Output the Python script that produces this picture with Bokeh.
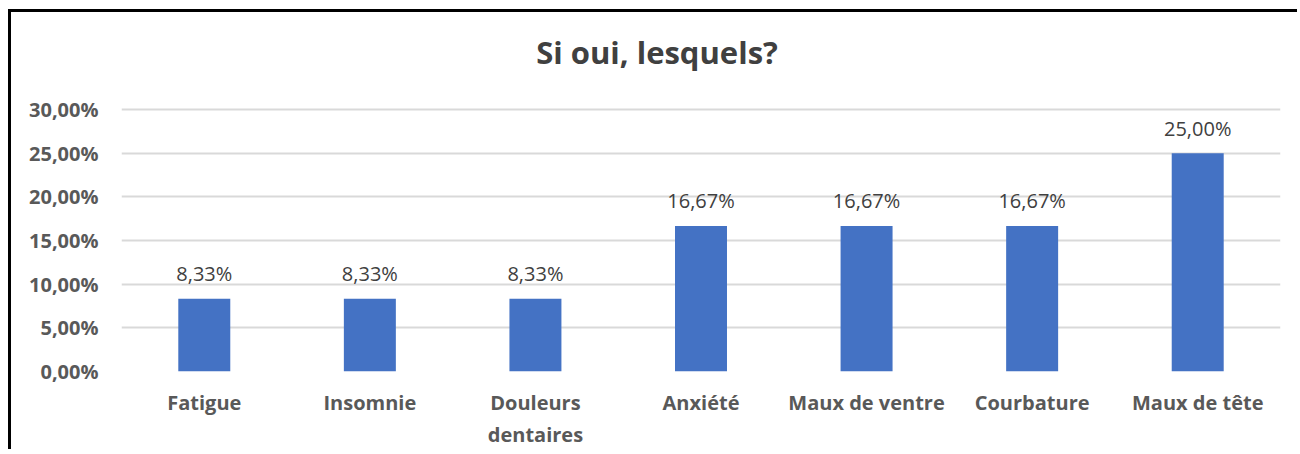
from bokeh.plotting import figure
from bokeh.models import (ColumnDataSource, Range1d, FactorRange, FixedTicker,
                          CustomJSTickFormatter, LabelSet, Label)
from bokeh.core.properties import value
from bokeh.embed import file_html
from bokeh.resources import INLINE

categories = ["Fatigue", "Insomnie", "Douleurs\ndentaires", "Anxiété",
              "Maux de ventre", "Courbature", "Maux de tête"]
values_pct = [8.33, 8.33, 8.33, 16.67, 16.67, 16.67, 25.00]
y_ticks_pct = [0, 5, 10, 15, 20, 25, 30]
title_text = "Si oui, lesquels?"

values = [v / 100 for v in values_pct]
labels = [("%.2f" % v).replace(".", ",") + "%" for v in values_pct]
src = ColumnDataSource(dict(cat=categories, val=values, lab=labels))

FONT = "Open Sans"
W, H = 1289, 440
# plot frame extends above the 30 % gridline to host the title
Y_TOP = y_ticks_pct[-1] / 100 * 359 / 262

p = figure(width=W, height=H, x_range=FactorRange(*categories),
           y_range=Range1d(0, Y_TOP),
           output_backend="svg", toolbar_location=None,
           min_border_left=110, min_border_right=20,
           min_border_top=0, min_border_bottom=81)
p.styles = {"margin-left": "8px", "margin-top": "9px",
            "border-top": "3px solid black", "border-left": "3px solid black"}
p.outline_line_color = None
p.background_fill_color = "white"
p.border_fill_color = "white"

# chart title, centred on the chart area
p.add_layout(Label(x=len(categories) / 2, y=Y_TOP * 308 / 359,
                   x_offset=-44, y_offset=12,
                   text=title_text, text_align="center",
                   text_baseline="alphabetic", text_font=FONT,
                   text_font_size="31px", text_font_style="bold",
                   text_color="#404040"))

p.vbar(x="cat", top="val", width=0.314, source=src,
       fill_color="#4472C4", line_color=None)

p.add_layout(LabelSet(x="cat", y="val", text="lab", source=src,
                      text_align="center", text_baseline="middle",
                      y_offset=25, text_font=value(FONT),
                      text_font_size="20px", text_color="#404040"))

p.xgrid.grid_line_color = None
p.ygrid.grid_line_color = "#D9D9D9"
p.ygrid.grid_line_width = 2
p.yaxis.ticker = FixedTicker(ticks=[t / 100 for t in y_ticks_pct])
p.yaxis.formatter = CustomJSTickFormatter(
    code="return (tick*100).toFixed(2).replace('.', ',') + '%';")

for ax in (p.xaxis[0], p.yaxis[0]):
    ax.axis_line_color = None
    ax.major_tick_line_color = None
    ax.minor_tick_line_color = None
    ax.major_tick_out = 0
    ax.major_tick_in = 0
    ax.minor_tick_out = 0
    ax.minor_tick_in = 0
    ax.major_label_text_font = FONT
    ax.major_label_text_font_size = "20px"
    ax.major_label_text_font_style = "bold"
    ax.major_label_text_color = "#595959"

p.yaxis.major_label_standoff = 23
p.xaxis.major_label_standoff = 17

open("out.html", "w").write(file_html(p, INLINE))
